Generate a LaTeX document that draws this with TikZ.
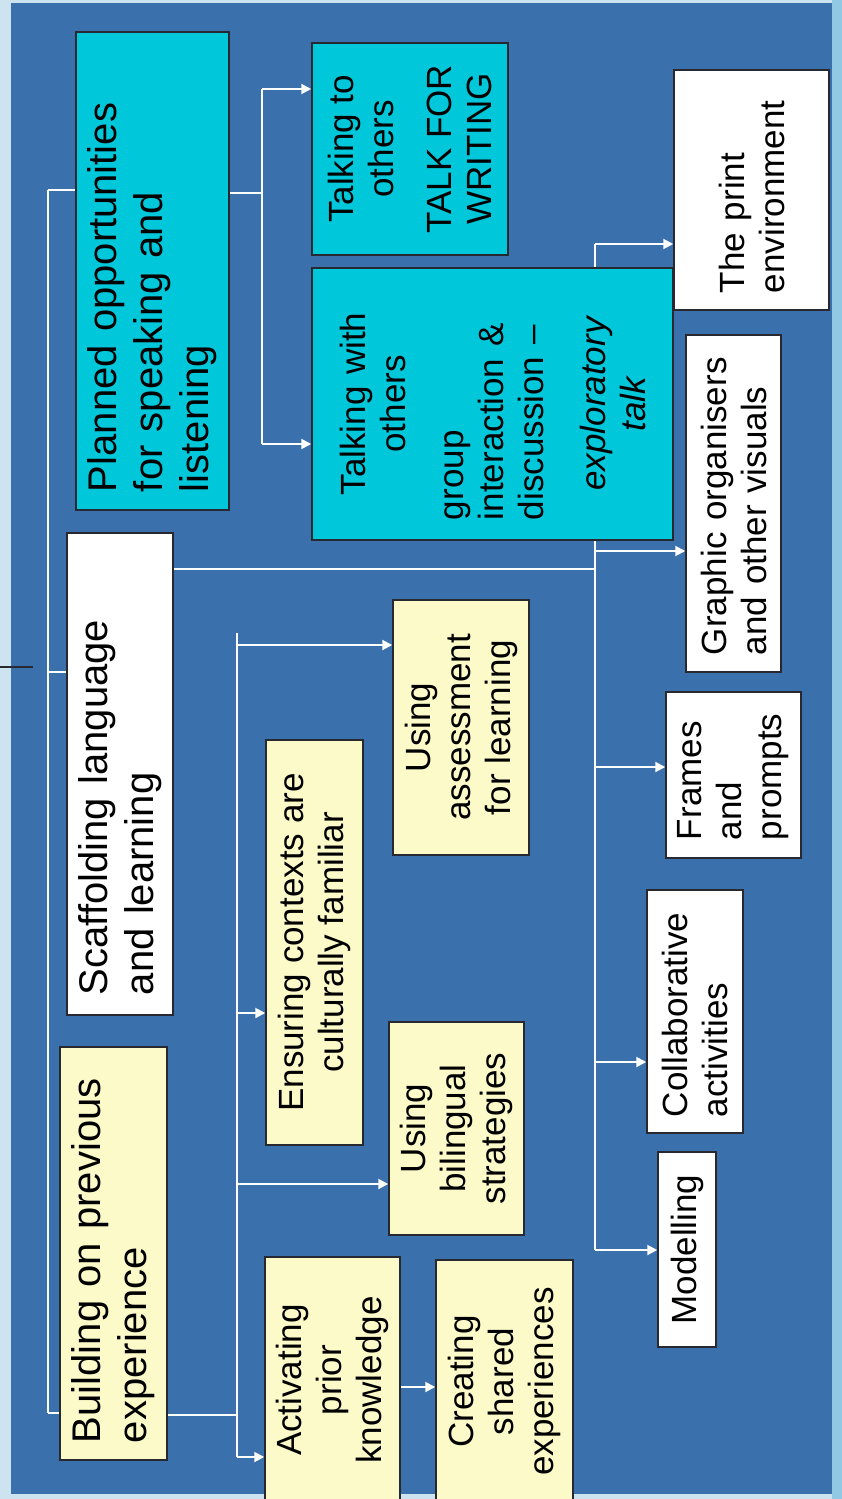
\documentclass[tikz,border=0pt]{standalone}
\usepackage{fontspec}
\setmainfont{Liberation Sans}
\usetikzlibrary{arrows.meta}
\hyphenpenalty=10000

\definecolor{pagebg}{RGB}{58,112,172}
\definecolor{rim}{RGB}{205,228,240}
\definecolor{rimright}{RGB}{145,200,228}
\definecolor{seacyan}{RGB}{0,200,218}
\definecolor{cream}{RGB}{252,250,200}
\definecolor{boxline}{RGB}{40,40,48}

\begin{document}
\begin{tikzpicture}[x=1pt, y=-1pt,
	box/.style = {rotate=90, draw=boxline, line width=1.5pt,
		inner xsep=18pt, inner ysep=0pt,
		font=\fontsize{35}{40}\selectfont},
	big/.style = {font=\fontsize{40}{46}\selectfont},
	wire/.style = {white, line width=2pt},
	link/.style = {wire, -{Triangle[length=10pt,width=10pt]}}]
	
	% Frame
	\useasboundingbox (0,0) rectangle (842,1499);
	\fill[rim] (0,0) rectangle (842,1499);
	\fill[rimright] (832,0) rectangle (842,1499);
	\fill[pagebg] (11,3) rectangle (832,1494);
	
	% Planned opportunities
	\node[box, big, fill=seacyan, align=left, text width=442pt, minimum height=153pt]
		(plan) at (152.5,271) {Planned opportunities\\for speaking and\\listening};
	\node[box, fill=seacyan, align=center, inner xsep=0pt, minimum width=212pt, minimum height=196pt]
		(talkto) at (410,149) {Talking to\\others\\[18pt]TALK FOR\\WRITING};
	\node[box, fill=seacyan, inner xsep=20pt, text width=232pt, minimum height=361pt]
		(talkwith) at (492.5,404) {{\centering Talking with\\others\par}\vspace{18pt}%
		{\raggedright group\\interaction \&\\discussion –\par}\vspace{22pt}%
		{\centering\itshape exploratory\\talk\par}};
	
	% Scaffolding
	\node[box, big, fill=white, align=left, inner xsep=20pt, text width=442pt, minimum height=106pt]
		(scaff) at (120,774) {Scaffolding language\\and learning};
	\node[box, fill=white, align=left, inner xsep=17pt, text width=206pt, minimum height=155pt]
		(print) at (751.5,190) {The print\\environment};
	\node[box, fill=white, align=left, inner xsep=17pt, text width=303pt, minimum height=95pt]
		(graphic) at (733.5,503.5) {Graphic organisers\\and other visuals};
	\node[box, fill=white, align=left, inner xsep=18pt, text width=130pt, minimum height=135pt]
		(frames) at (733.5,775) {Frames\\and\\prompts};
	\node[box, fill=white, align=left, inner xsep=16pt, text width=211pt, minimum height=96pt]
		(collab) at (695,1011.5) {Collaborative\\activities};
	\node[box, fill=white, align=center, inner xsep=0pt, minimum width=195pt, minimum height=58pt]
		(model) at (687,1249.5) {Modelling};
	
	% Building on previous experience
	\node[box, big, fill=cream, align=left, inner xsep=17pt, text width=379pt, minimum height=107pt]
		(build) at (113.5,1253.5) {Building on previous\\experience};
	\node[box, fill=cream, align=center, inner xsep=0pt, minimum width=255pt, minimum height=136pt]
		(assess) at (461,727.5) {Using\\assessment\\for learning};
	\node[box, fill=cream, align=center, inner xsep=0pt, minimum width=405pt, minimum height=97pt]
		(ensure) at (314.5,942.5) {Ensuring contexts are\\culturally familiar};
	\node[box, fill=cream, align=center, inner xsep=0pt, minimum width=213pt, minimum height=135pt]
		(biling) at (456.5,1128.5) {Using\\bilingual\\strategies};
	\node[box, fill=cream, align=center, inner xsep=0pt, minimum width=246pt, minimum height=135pt]
		(activ) at (332.5,1380) {Activating\\prior\\knowledge};
	\node[box, fill=cream, align=center, inner xsep=0pt, minimum width=243pt, minimum height=137pt]
		(create) at (504.5,1381.5) {Creating\\shared\\experiences};
	
	% Left spine
	\coordinate (inlet) at (0,667);
	\coordinate (spineTop) at (48,190);
	\coordinate (spineMid) at (48,672);
	\coordinate (spineEnd) at (48,1413);
	\draw[boxline, line width=2pt] (inlet) -- ++(33,0);
	\draw[wire] (spineTop) -- (spineEnd);
	\draw[wire] (spineTop) -- (spineTop -| plan.north);
	\draw[wire] (spineMid) -- (spineMid -| scaff.north);
	\draw[wire] (spineEnd) -- (spineEnd -| build.north);
	
	% Talk branch
	\coordinate (talkJoin) at (262,193);
	\coordinate (talkTop) at (262,89);
	\coordinate (talkLow) at (262,444);
	\draw[wire] (plan.south |- talkJoin) -- (talkJoin);
	\draw[wire] (talkTop) -- (talkLow);
	\draw[link] (talkTop) -- (talkTop -| talkto.north);
	\draw[link] (talkLow) -- (talkLow -| talkwith.north);
	
	% Scaffolding branch
	\coordinate (scaffJoin) at (595,569);
	\coordinate (railTop) at (595,244);
	\coordinate (railGraphic) at (595,551);
	\coordinate (railFrames) at (595,767);
	\coordinate (railCollab) at (595,1062);
	\coordinate (railEnd) at (595,1250);
	\draw[wire] (scaff.south |- scaffJoin) -- (scaffJoin);
	\draw[wire] (railTop) -- (railTop |- talkwith.east);
	\draw[wire] (railTop |- talkwith.west) -- (railEnd);
	\draw[link] (railTop) -- (railTop -| print.north);
	\draw[link] (railGraphic) -- (railGraphic -| graphic.north);
	\draw[link] (railFrames) -- (railFrames -| frames.north);
	\draw[link] (railCollab) -- (railCollab -| collab.north);
	\draw[link] (railEnd) -- (railEnd -| model.north);
	
	% Building branch
	\coordinate (buildJoin) at (237,1415);
	\coordinate (stemTop) at (237,633);
	\coordinate (stemAssess) at (237,645);
	\coordinate (stemEnsure) at (237,1013);
	\coordinate (stemBiling) at (237,1184);
	\coordinate (stemEnd) at (237,1457);
	\coordinate (shareRow) at (0,1387);
	\draw[wire] (build.south |- buildJoin) -- (buildJoin);
	\draw[wire] (stemTop) -- (stemEnd);
	\draw[link] (stemAssess) -- (stemAssess -| assess.north);
	\draw[link] (stemEnsure) -- (stemEnsure -| ensure.north);
	\draw[link] (stemBiling) -- (stemBiling -| biling.north);
	\draw[link] (stemEnd) -- (stemEnd -| activ.north);
	\draw[link] (activ.south |- shareRow) -- (shareRow -| create.north);
	
\end{tikzpicture}
\end{document}
